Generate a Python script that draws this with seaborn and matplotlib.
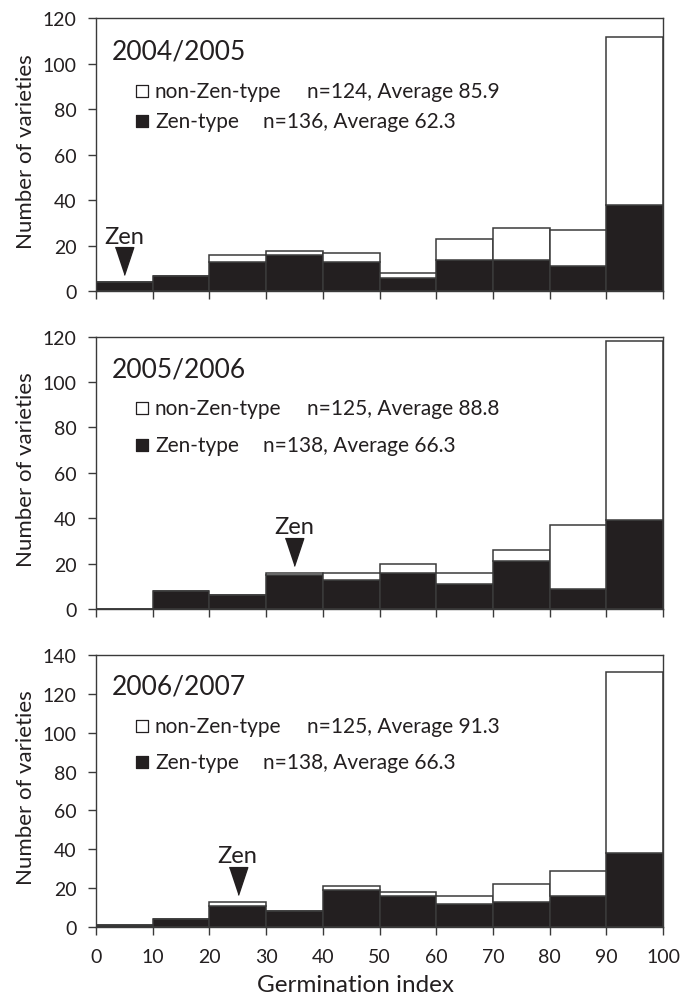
import numpy as np
import pandas as pd
import seaborn as sns
import matplotlib.pyplot as plt
import matplotlib.transforms as mtransforms

# germination index bins (0-10, 10-20, ... 90-100)
bin_edges = np.arange(0, 101, 10)
bin_mid = bin_edges[:-1] + 5

seasons = ['2004/2005', '2005/2006', '2006/2007']

# number of varieties per bin
zen_0405 = [4, 7, 13, 16, 13, 6, 14, 14, 11, 38]
nonzen_0405 = [0, 0, 3, 2, 4, 2, 9, 14, 16, 74]
zen_0506 = [0, 8, 6, 15, 13, 16, 11, 21, 9, 39]
nonzen_0506 = [0, 0, 0, 1, 3, 4, 5, 5, 28, 79]
zen_0607 = [1, 4, 11, 8, 19, 16, 12, 13, 16, 38]
nonzen_0607 = [0, 0, 2, 0, 2, 2, 4, 9, 13, 93]

nonzen_stats = ['n=124, Average 85.9', 'n=125, Average 88.8', 'n=125, Average 91.3']
zen_stats = ['n=136, Average 62.3', 'n=138, Average 66.3', 'n=138, Average 66.3']
zen_cultivar_bin = [5, 35, 25]  # bin where the cultivar "Zen" falls
y_max = [120, 120, 140]

zen_counts = [zen_0405, zen_0506, zen_0607]
nonzen_counts = [nonzen_0405, nonzen_0506, nonzen_0607]

BLACK = '#231f20'
LINE = '#3a3a3a'

sns.set_style('ticks')
plt.rcParams['font.family'] = ['Lato', 'DejaVu Sans']
plt.rcParams['axes.edgecolor'] = LINE
plt.rcParams['axes.linewidth'] = 1.0
plt.rcParams['xtick.color'] = LINE
plt.rcParams['ytick.color'] = LINE
plt.rcParams['xtick.labelcolor'] = BLACK
plt.rcParams['ytick.labelcolor'] = BLACK
plt.rcParams['text.color'] = BLACK
plt.rcParams['axes.labelcolor'] = BLACK

fig = plt.figure(figsize=(6.9, 10.04), dpi=100)

# axes boxes in figure fractions (left, bottom, width, height)
boxes = [(0.139, 0.7087, 0.822, 0.2719),
         (0.139, 0.3924, 0.822, 0.2714),
         (0.139, 0.0757, 0.822, 0.2709)]
title_y = [0.881, 0.881, 0.886]
row_y = [(0.734, 0.625), (0.738, 0.602), (0.740, 0.605)]

tri = [(-1 / 3, 0.5), (1 / 3, 0.5), (0, -0.5)]

for i in range(3):
    ax = fig.add_axes(boxes[i])
    df = pd.DataFrame({
        'gi': np.concatenate([bin_mid, bin_mid]),
        'count': zen_counts[i] + nonzen_counts[i],
        'type': ['Zen-type'] * 10 + ['non-Zen-type'] * 10,
    })
    sns.histplot(data=df, x='gi', weights='count', hue='type',
                 hue_order=['non-Zen-type', 'Zen-type'],
                 palette={'non-Zen-type': 'white', 'Zen-type': BLACK},
                 binwidth=10, binrange=(0, 100), multiple='stack', element='bars',
                 edgecolor=LINE, linewidth=1.1, alpha=1, legend=False, ax=ax)

    ax.set_xlim(0, 100)
    ax.set_ylim(0, y_max[i])
    ax.set_xticks(bin_edges)
    ax.set_yticks(np.arange(0, y_max[i] + 1, 20))
    ax.tick_params(axis='both', direction='out', length=6, width=1.0,
                   labelsize=14)
    ax.tick_params(axis='y', pad=8)
    ax.tick_params(axis='x', pad=9)
    if i < 2:
        ax.tick_params(axis='x', labelbottom=False)
        ax.set_xlabel('')
    else:
        ax.set_xlabel('Germination index', fontsize=17.5)
        ax.xaxis.set_label_coords(0.457, -0.172)
    ax.set_ylabel('Number of varieties', fontsize=16)
    ax.yaxis.set_label_coords(-0.105, 0.516)
    for s in ax.spines.values():
        s.set_visible(True)

    # season title and stats "legend"
    ax.text(0.028, title_y[i], seasons[i], transform=ax.transAxes,
            fontsize=19, ha='left', va='center')
    r1, r2 = row_y[i]
    ax.scatter([0.081], [r1], marker='s', s=66, facecolor='white',
               edgecolor=BLACK, linewidth=0.9, transform=ax.transAxes,
               clip_on=False, zorder=5)
    ax.scatter([0.081], [r2], marker='s', s=66, facecolor=BLACK,
               edgecolor=BLACK, linewidth=0.9, transform=ax.transAxes,
               clip_on=False, zorder=5)
    ax.text(0.104, r1, 'non-Zen-type', transform=ax.transAxes,
            fontsize=15, ha='left', va='center')
    ax.text(0.372, r1, nonzen_stats[i], transform=ax.transAxes,
            fontsize=15, ha='left', va='center')
    ax.text(0.104, r2, 'Zen-type', transform=ax.transAxes,
            fontsize=15, ha='left', va='center')
    ax.text(0.295, r2, zen_stats[i], transform=ax.transAxes,
            fontsize=15, ha='left', va='center')

    # arrow marking the cultivar Zen
    k = list(bin_mid).index(zen_cultivar_bin[i])
    top = zen_counts[i][k] + nonzen_counts[i][k]
    off = mtransforms.offset_copy(ax.transData, fig=fig, x=0, y=21, units='dots')
    ax.plot([zen_cultivar_bin[i]], [top], marker=tri, markersize=20,
            color=BLACK, linestyle='none', transform=off, clip_on=False)
    ax.annotate('Zen', xy=(zen_cultivar_bin[i], top), xytext=(0, 46),
                textcoords='offset pixels', ha='center', va='center',
                fontsize=17)

fig.savefig('out.png', dpi=100)
